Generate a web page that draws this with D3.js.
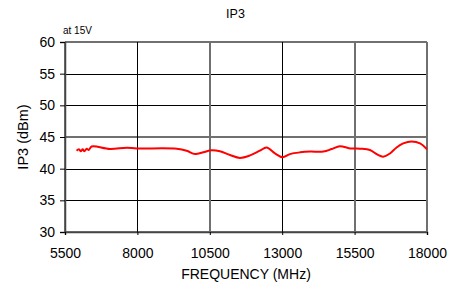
<!DOCTYPE html>
<html>
<head>
<meta charset="utf-8">
<script src="https://cdn.jsdelivr.net/npm/d3@7"></script>
<style>
  html, body { margin: 0; padding: 0; background: #fff; }
  svg { display: block; font-family: "Liberation Sans", Arial, sans-serif; }
</style>
</head>
<body>
<svg id="chart" width="460" height="283"></svg>
<script>
const freqMHz = [5900, 5980, 6050, 6110, 6170, 6250, 6320, 6420, 7050, 7630, 7980, 9360, 9700, 9990, 10280, 10560, 10850, 11200, 11540, 11890, 12230, 12460, 12750, 13010, 13270, 13620, 13960, 14420, 14710, 14990, 15340, 15690, 16030, 16260, 16490, 16720, 16950, 17180, 17470, 17760, 18000];
const ip3dBm  = [42.84, 43.05, 42.74, 43.05, 42.74, 43.15, 42.95, 43.5, 43.1, 43.3, 43.2, 43.15, 42.84, 42.3, 42.6, 42.9, 42.74, 42.15, 41.7, 42.1, 42.84, 43.35, 42.4, 41.8, 42.3, 42.58, 42.7, 42.7, 43.1, 43.55, 43.2, 43.15, 42.95, 42.3, 41.9, 42.4, 43.35, 44.0, 44.3, 44.0, 43.05];
const xTicks = [5500, 8000, 10500, 13000, 15500, 18000];
const yTicks = [30, 35, 40, 45, 50, 55, 60];
const titleText = "IP3";
const noteText = "at 15V";
const xLabel = "FREQUENCY (MHz)";
const yLabel = "IP3 (dBm)";

const svg = d3.select("#chart");
const mLeft = 65, mRight = 427, mTop = 42, mBottom = 232;
const x = d3.scaleLinear().domain([5500, 18000]).range([mLeft, mRight]);
const y = d3.scaleLinear().domain([30, 60]).range([mBottom, mTop]);

// emphasised (grey, thicker) grid lines as in the reference rendering
const greyY = new Set([60, 45, 30]);
const greyX = new Set([5500, 10500, 15500, 18000]);

const grid = svg.append("g");
grid.selectAll("line.h").data(yTicks).join("line")
  .attr("x1", mLeft).attr("x2", mRight)
  .attr("y1", d => Math.round(y(d)) + (greyY.has(d) ? 0 : 0.5))
  .attr("y2", d => Math.round(y(d)) + (greyY.has(d) ? 0 : 0.5))
  .attr("stroke", d => greyY.has(d) ? "#707070" : "#000")
  .attr("stroke-width", d => greyY.has(d) ? 2 : 1);
grid.selectAll("line.v").data(xTicks).join("line")
  .attr("y1", mTop).attr("y2", mBottom)
  .attr("x1", d => Math.round(x(d)) + (greyX.has(d) ? 0 : 0.5))
  .attr("x2", d => Math.round(x(d)) + (greyX.has(d) ? 0 : 0.5))
  .attr("stroke", d => greyX.has(d) ? "#707070" : "#000")
  .attr("stroke-width", d => greyX.has(d) ? 2 : 1);

// axes
const yAxis = d3.axisLeft(y).tickValues(yTicks).tickSize(5).tickPadding(5);
const gy = svg.append("g").attr("transform", `translate(${mLeft},0)`).call(yAxis);
gy.select(".domain").attr("stroke", "#444").attr("stroke-width", 1.5);
gy.selectAll(".tick line").attr("stroke", "#000");
gy.selectAll(".tick text").attr("font-size", 14).attr("fill", "#000")
  .attr("font-family", "Liberation Sans, Arial, sans-serif");

const xAxis = d3.axisBottom(x).tickValues(xTicks).tickSize(3).tickPadding(13).tickFormat(d3.format("d"));
const gx = svg.append("g").attr("transform", `translate(0,${mBottom})`).call(xAxis);
gx.select(".domain").attr("stroke", "#444").attr("stroke-width", 1.5);
gx.selectAll(".tick line").attr("stroke", "#000");
gx.selectAll(".tick text").attr("font-size", 14).attr("fill", "#000")
  .attr("font-family", "Liberation Sans, Arial, sans-serif");

// data line
const line = d3.line().x((d, i) => x(freqMHz[i])).y(d => y(d)).curve(d3.curveCatmullRom.alpha(0.5));
svg.append("path").datum(ip3dBm)
  .attr("d", line)
  .attr("fill", "none")
  .attr("stroke", "#ff0000")
  .attr("stroke-width", 2);

// texts
svg.append("text").attr("x", 235.5).attr("y", 18).attr("text-anchor", "middle")
  .attr("font-size", 12.5).text(titleText);
svg.append("text").attr("x", 63).attr("y", 34).attr("font-size", 10).text(noteText);
svg.append("text").attr("x", (mLeft + mRight) / 2).attr("y", 279).attr("text-anchor", "middle")
  .attr("font-size", 14).text(xLabel);
svg.append("text").attr("transform", `translate(28,${(mTop + mBottom) / 2}) rotate(-90)`)
  .attr("text-anchor", "middle").attr("font-size", 14.5).text(yLabel);
</script>
</body>
</html>
